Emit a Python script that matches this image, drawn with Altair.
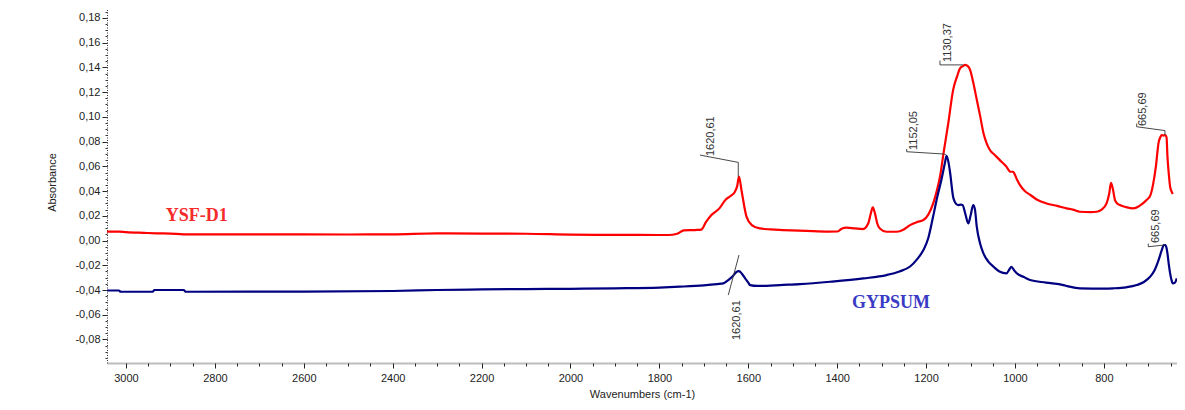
import altair as alt
import pandas as pd

# ---------------- data ----------------
red_w = [3043, 3016, 3000, 2960, 2930, 2900, 2870, 2700, 2500, 2400, 2300, 2200, 2100, 2000,
         1900, 1800, 1780, 1760, 1745, 1720, 1706, 1695, 1683, 1665, 1651, 1640, 1630, 1625,
         1621, 1615, 1604, 1592, 1574, 1550, 1522, 1470, 1420, 1400, 1390, 1379, 1360, 1342,
         1330, 1325, 1320, 1315, 1310, 1304, 1289, 1266, 1250, 1236, 1220, 1206, 1195, 1184,
         1176, 1168, 1161, 1150, 1139, 1130, 1124, 1117, 1112, 1106, 1101, 1094, 1086, 1078,
         1071, 1063, 1056, 1045, 1034, 1020, 1010, 1004, 1000, 995, 989, 978, 966, 950, 929,
         905, 884, 870, 854, 830, 816, 805, 794, 788, 784, 780, 775, 770, 764, 750, 734, 720,
         704, 695, 689, 683, 677, 673, 670, 666, 662, 659, 657, 654, 651, 648, 645]
red_v = [0.0072, 0.0072, 0.0068, 0.0062, 0.0058, 0.0056, 0.0050, 0.0050, 0.0049, 0.0050,
         0.0058, 0.0056, 0.0055, 0.0048, 0.0046, 0.0045, 0.0045, 0.0055, 0.0082, 0.0085,
         0.0088, 0.0150, 0.0206, 0.0260, 0.0330, 0.0360, 0.0395, 0.0440, 0.0516, 0.0400,
         0.0193, 0.0125, 0.0098, 0.0090, 0.0085, 0.0078, 0.0072, 0.0073, 0.0095, 0.0104,
         0.0098, 0.0093, 0.0140, 0.0210, 0.0268, 0.0220, 0.0140, 0.0098, 0.0071, 0.0071,
         0.0090, 0.0125, 0.0150, 0.0166, 0.0210, 0.0300, 0.0400, 0.0530, 0.0700, 0.0950,
         0.1220, 0.1330, 0.1390, 0.1410, 0.1420, 0.1410, 0.1380, 0.1280, 0.1140, 0.1000,
         0.0870, 0.0780, 0.0730, 0.0690, 0.0650, 0.0600, 0.0556, 0.0556, 0.0530, 0.0490,
         0.0450, 0.0400, 0.0370, 0.0330, 0.0300, 0.0280, 0.0260, 0.0250, 0.0233, 0.0230,
         0.0233, 0.0250, 0.0300, 0.0380, 0.0467, 0.0420, 0.0327, 0.0300, 0.0287, 0.0270,
         0.0260, 0.0280, 0.0327, 0.0370, 0.0460, 0.0600, 0.0790, 0.0835, 0.0853, 0.0848,
         0.0853, 0.0835, 0.0680, 0.0540, 0.0435, 0.0400, 0.0376]

blue_w = [3043, 3016, 3012, 2940, 2936, 2870, 2866, 2600, 2400, 2300, 2200, 2100, 2000, 1900,
          1800, 1754, 1700, 1670, 1656, 1645, 1634, 1627, 1621, 1614, 1607, 1600, 1596, 1580,
          1559, 1529, 1484, 1416, 1341, 1289, 1260, 1236, 1220, 1206, 1195, 1185, 1175, 1165,
          1158, 1154, 1150, 1146, 1139, 1135, 1128, 1122, 1118, 1112, 1105, 1100, 1094, 1090,
          1086, 1078, 1071, 1060, 1048, 1035, 1019, 1012, 1008, 1002, 996, 980, 966, 930, 891,
          880, 854, 800, 779, 750, 726, 710, 696, 686, 677, 670, 665, 662, 659, 657, 654, 651,
          647, 645, 640, 636]
blue_v = [-0.0404, -0.0404, -0.0414, -0.0414, -0.0400, -0.0400, -0.0414, -0.0413, -0.0408,
          -0.0400, -0.0395, -0.0392, -0.0390, -0.0386, -0.0380, -0.0373, -0.0362, -0.0352,
          -0.0346, -0.0320, -0.0285, -0.0255, -0.0247, -0.0270, -0.0306, -0.0340, -0.0360,
          -0.0367, -0.0366, -0.0360, -0.0352, -0.0333, -0.0306, -0.0279, -0.0250, -0.0210,
          -0.0150, -0.0077, 0.0020, 0.0180, 0.0350, 0.0500, 0.0620, 0.0685, 0.0640, 0.0550,
          0.0350, 0.0310, 0.0287, 0.0290, 0.0287, 0.0220, 0.0139, 0.0200, 0.0287, 0.0250,
          0.0112, -0.0030, -0.0104, -0.0170, -0.0212, -0.0250, -0.0265, -0.0230, -0.0212,
          -0.0240, -0.0265, -0.0295, -0.0319, -0.0340, -0.0360, -0.0370, -0.0386, -0.0388,
          -0.0386, -0.0378, -0.0360, -0.0335, -0.0293, -0.0240, -0.0158, -0.0080, -0.0036,
          -0.0036, -0.0060, -0.0104, -0.0190, -0.0265, -0.0330, -0.0346, -0.0340, -0.0306]

series_names = ["YSF-D1", "GYPSUM"]
series_colors = ["#ff0000", "#000080"]
name_colors = ["#f52a2a", "#3a3ac4"]
name_w = [2841, 1279]
name_v = [0.0200, -0.0508]

x_ticks = [800, 1000, 1200, 1400, 1600, 1800, 2000, 2200, 2400, 2600, 2800, 3000]
x_minor = list(range(650, 3001, 50))
y_ticks = [-0.08, -0.06, -0.04, -0.02, 0.0, 0.02, 0.04, 0.06, 0.08, 0.10, 0.12, 0.14, 0.16, 0.18]
y_minor = [round(-0.095 + 0.005 * i, 3) for i in range(57)]

peak_text = ["1620,61", "1130,37", "665,69", "1152,05", "665,69", "1620,61"]
peak_text_w = [1683.9, 1149.6, 710.9, 1227.3, 682.8, 1625.4]
peak_text_v = [0.0683, 0.1443, 0.0926, 0.0732, -0.0020, -0.0804]

leader_id = [0, 0, 0, 1, 1, 1, 2, 2, 2, 2, 3, 3, 3, 3, 4, 4, 4, 5, 5]
leader_w = [1708.7, 1622.5, 1622.5,
            1168.7, 1168.7, 1116.0,
            726.2, 726.2, 662.6, 662.6,
            1243.6, 1243.6, 1157.5, 1155.0,
            700.1, 700.1, 662.6,
            1620.9, 1645.0]
leader_v = [0.0691, 0.0632, 0.0516,
            0.1455, 0.1420, 0.1420,
            0.0945, 0.0920, 0.0889, 0.0853,
            0.0740, 0.0718, 0.0699, 0.0690,
            -0.0025, -0.0050, -0.0036,
            -0.0117, -0.0441]

# ---------------- tables ----------------
spec_df = pd.concat([
    pd.DataFrame({"w": red_w, "v": red_v, "s": series_names[0], "o": range(len(red_w))}),
    pd.DataFrame({"w": blue_w, "v": blue_v, "s": series_names[1], "o": range(len(blue_w))}),
])
name_df = pd.DataFrame({"w": name_w, "v": name_v, "s": series_names, "c": name_colors})
peak_df = pd.DataFrame({"w": peak_text_w, "v": peak_text_v, "t": peak_text})
lead_df = pd.DataFrame({"w": leader_w, "v": leader_v, "id": leader_id,
                        "o": range(len(leader_w))})
minor_df = pd.DataFrame({"w": [1000.0], "v": [0.0]})

FONT = "Liberation Sans"
xscale = alt.Scale(domain=[635.5, 3042.7], reverse=True, nice=False, zero=False)
yscale = alt.Scale(domain=[-0.0990, 0.1880], nice=False, zero=False)

y_label_expr = "replace(replace(format(datum.value, '.2f'), '.', ','), '\u2212', '-')"

x_main_axis = alt.Axis(values=x_ticks, format="d", orient="bottom", grid=False,
                       tickSize=5, tickColor="#222222", domainColor="#bdbdbd", domainWidth=2,
                       labelFont=FONT, labelFontSize=11, labelColor="#222222", labelPadding=4,
                       labelOverlap=False,
                       title="Wavenumbers (cm-1)", titleFont=FONT, titleFontSize=11,
                       titleFontWeight="normal", titleColor="#222222", titleY=31,
                       titleBaseline="middle")
y_main_axis = alt.Axis(values=y_ticks, labelExpr=y_label_expr, orient="left", grid=False,
                       tickSize=5, tickColor="#222222", domainColor="#333333",
                       domainDash=[1, 1.5], domainWidth=1, labelOverlap=False, labelFlush=False,
                       labelFont=FONT, labelFontSize=11, labelColor="#222222", labelPadding=2,
                       title="Absorbance", titleFont=FONT, titleFontSize=11,
                       titleFontWeight="normal", titleColor="#222222", titleX=-55, titleY=174,
                       titleAngle=270, titleAlign="center", titleBaseline="middle")

lines = alt.Chart(spec_df).mark_line(strokeWidth=2.2, interpolate="monotone", clip=True).encode(
    x=alt.X("w:Q", scale=xscale, axis=x_main_axis),
    y=alt.Y("v:Q", scale=yscale, axis=y_main_axis),
    color=alt.Color("s:N", scale=alt.Scale(domain=series_names, range=series_colors), legend=None),
    detail="s:N",
    order="o:Q",
)

minor = alt.Chart(minor_df).mark_point(opacity=0).encode(
    x=alt.X("w:Q", scale=xscale,
            axis=alt.Axis(values=x_minor, orient="bottom", labels=False, domain=False,
                          grid=False, tickSize=3, tickColor="#222222", title=None)),
    y=alt.Y("v:Q", scale=yscale,
            axis=alt.Axis(values=y_minor, orient="left", labels=False, domain=False,
                          grid=False, tickSize=2, tickColor="#333333", title=None)),
)

leaders = alt.Chart(lead_df).mark_line(color="#333333", strokeWidth=0.9).encode(
    x=alt.X("w:Q", scale=xscale, axis=None),
    y=alt.Y("v:Q", scale=yscale, axis=None),
    detail="id:N",
    order="o:Q",
)

peaks = alt.Chart(peak_df).mark_text(angle=270, align="left", baseline="middle", font=FONT,
                                      fontSize=11, color="#333333").encode(
    x=alt.X("w:Q", scale=xscale, axis=None),
    y=alt.Y("v:Q", scale=yscale, axis=None),
    text="t:N",
)

names = alt.Chart(name_df).mark_text(font="Liberation Serif", fontWeight="bold", fontSize=18,
                                      align="center", baseline="middle").encode(
    x=alt.X("w:Q", scale=xscale, axis=None),
    y=alt.Y("v:Q", scale=yscale, axis=None),
    text="s:N",
    color=alt.Color("c:N", scale=None, legend=None),
)

chart = alt.layer(lines, minor, leaders, peaks, names).resolve_axis(
    x="independent", y="independent"
).properties(
    width=1070, height=355,
    autosize=alt.AutoSizeParams(type="none"),
    padding={"left": 99, "top": 0, "right": 0, "bottom": 38},
    background="white",
).configure_view(stroke=None)

chart.save("out.html", embed_options={"renderer": "svg", "actions": False})
